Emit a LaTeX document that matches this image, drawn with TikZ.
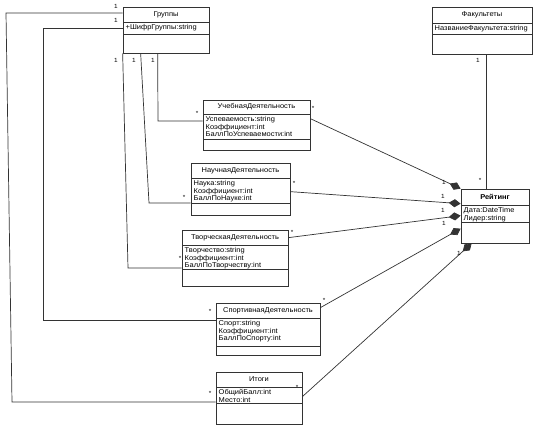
\documentclass[tikz,border=0pt]{standalone}
\usepackage{fontspec}
\newfontfamily\umlfont{Liberation Sans}[FakeStretch=1.07]
\usetikzlibrary{arrows.meta,fit}

% name, left, top, right, bottom, divider 1, divider 2, title, attributes
\newcommand{\umlclass}[9]{%
  \node[classbox, fit={(#2,#3) (#4,#5)}] (#1) {};
  \draw[assoc] (#2,#6) -- (#4,#6); \draw[assoc] (#2,#7) -- (#4,#7);
  \node[classname] (#1-name) at ({(#2+#4)/2},{(#3+#6)/2}) {#8};
  \node[attrlist] (#1-attr) at (#2,#6) {#9};
}

\begin{document}
\begin{tikzpicture}[x=1pt,y=-1pt,
  classbox/.style={draw=black!80, line width=0.7pt, inner sep=0pt},
  classname/.style={font=\umlfont\fontsize{7}{7.5}\selectfont, inner sep=0pt},
  attrlist/.style={anchor=north west, align=left, font=\umlfont\fontsize{7}{7.5}\selectfont, inner xsep=2.5pt, inner ysep=2.6pt},
  mult/.style={font=\umlfont\fontsize{6}{6}\selectfont, inner sep=0pt},
  assoc/.style={draw=black!80, line width=0.7pt},
  comp/.style={assoc, -{Diamond[length=12pt,width=8pt]}}]
\useasboundingbox (0,0) rectangle (547,438);

% classes
\umlclass{grp}{123}{7}{209}{53}{22}{34}{Группы}{+ШифрГруппы:string}
\umlclass{fac}{432}{7}{532}{54}{23}{34}{Факультеты}{НазваниеФакультета:string}
\umlclass{ucheb}{203}{100}{310}{150}{114}{139}{УчебнаяДеятельность}{Успеваемость:string\\Коэффициент:int\\БаллПоУспеваемости:int}
\umlclass{nauch}{191}{163}{290}{215}{178}{203}{НаучнаяДеятельность}{Наука:string\\Коэффициент:int\\БаллПоНауке:int}
\umlclass{tvor}{182}{230}{288}{286}{245}{269}{ТворческаяДеятельность}{Творчество:string\\Коэффициент:int\\БаллПоТворчеству:int}
\umlclass{sport}{216}{303}{320}{355}{318}{346}{СпортивнаяДеятельность}{Спорт:string\\Коэффициент:int\\БаллПоСпорту:int}
\umlclass{itg}{216}{372}{302}{424}{387}{403}{Итоги}{ОбщийБалл:int\\Место:int}
\umlclass{rating}{461}{189}{529}{243}{205}{222}{\bfseries Рейтинг}{Дата:DateTime\\Лидер:string}

% Группы -- activities and totals
\coordinate (b1) at (6,13); \coordinate (b2) at (12,402);
\draw[assoc] (grp.west |- b1) -- (b1) -- (b2) -- (itg.west |- b2);
\coordinate (b3) at (43,28); \coordinate (b4) at (43,320);
\draw[assoc] (grp.west |- b3) -- (b3) -- (b4) -- (sport.west |- b4);
\coordinate (b5) at (128,268);
\draw[assoc] (grp.south west) -- (b5) -- (tvor.west |- b5);
\coordinate (b6) at (149,203);
\draw[assoc] ([xshift=18pt]grp.south west) -- (b6) -- (nauch.west |- b6);
\coordinate (b7) at (158,121);
\draw[assoc] ([xshift=35pt]grp.south west) -- (b7) -- (ucheb.west |- b7);

% composition into Рейтинг
\draw[comp] ([yshift=-19pt]ucheb.north east) -- (rating.north west);
\draw[comp] ([yshift=-29pt]nauch.north east) -- ([yshift=-15pt]rating.north west);
\draw[comp] ([yshift=-8pt]tvor.north east) -- ([yshift=-27pt]rating.north west);
\draw[comp] ([yshift=-5pt]sport.north east) -- ([yshift=-40pt]rating.north west);
\draw[comp] ([yshift=-25pt]itg.north east) -- ([xshift=11pt]rating.south west);
\draw[assoc] ([xshift=4pt]fac.south) -- ([xshift=4pt]fac.south |- rating.north);

% multiplicities
\foreach \x/\y [count=\i] in {116/6,116/20,116/60,134/60,153/60,478/60,444/182,443/196,443/210,444/223,459/253}
  \node[mult] (one\i) at (\x,\y) {1};
\foreach \x/\y [count=\i] in {197/113,184/197,180/258,210/311,210/393,313/108,294/183,292/232,324/300,297/387,480/180}
  \node[mult] (many\i) at (\x,\y) {*};
\end{tikzpicture}
\end{document}
